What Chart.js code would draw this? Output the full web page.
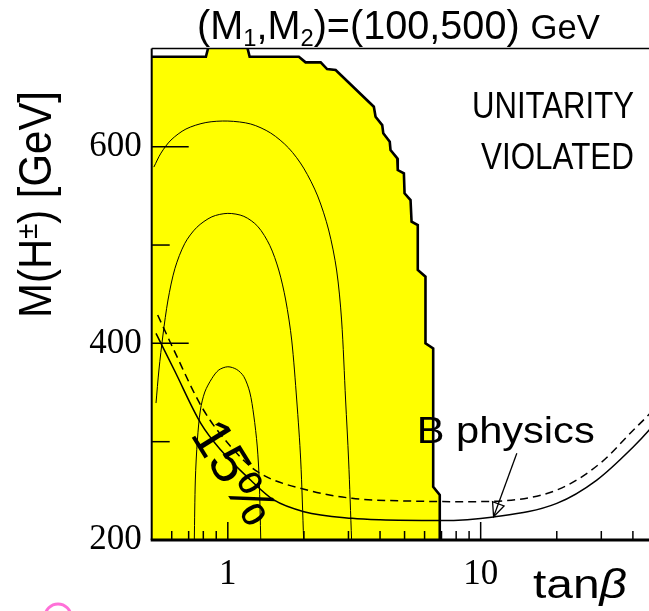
<!DOCTYPE html>
<html><head><meta charset="utf-8">
<script src="https://cdn.jsdelivr.net/npm/chart.js@4.4.0/dist/chart.umd.min.js"></script>
<style>html,body{margin:0;padding:0;background:#fff;overflow:hidden;width:649px;height:611px}canvas{display:block}</style>
</head><body>
<canvas id="c" width="680" height="611"></canvas>
<script>
// ---- tick values ----
const xTickValues = [1, 10];
const xMinorTicks = [0.6, 0.7, 0.8, 0.9, 2, 3, 4, 5, 6, 7, 8, 9, 20, 30, 40, 50];
const yTickValues = [200, 400, 600];
const yMinorTicks = [300, 500];

// ---- unitarity boundary (yellow = allowed) ----
const unitarityTanb = [0.5, 0.819, 0.841, 1.189, 1.22, 1.91, 2.03, 2.33, 2.47, 2.67, 3.78, 3.84, 4.08, 4.12, 4.37, 4.40, 4.68, 4.70, 4.97, 5.00, 5.28, 5.33, 5.64, 5.64, 6.05, 6.05, 6.49, 6.49, 6.89, 6.89];
const unitarityMass = [691.5, 691.5, 703, 703, 691.5, 691.5, 685.8, 685.8, 679, 678, 640.7, 630.5, 622, 613.6, 605, 596.6, 588.2, 576.3, 572.9, 552.6, 545.8, 523.7, 520.3, 474.6, 467.8, 400, 394.9, 254.2, 245.8, 200];

// ---- contours ----
const contourATanb = [0.510, 0.544, 0.596, 0.683, 0.819, 1.0, 1.232, 1.478, 1.741, 1.995, 2.266, 2.505, 2.693, 2.818, 2.923, 3.004, 3.087];
const contourAMass = [579.3, 593.5, 606.8, 618, 624.6, 626.1, 623.1, 613.9, 598.6, 578.3, 549.9, 515.3, 474.6, 423.8, 342.4, 281.4, 200];
const contourBTanb = [0.520, 0.534, 0.554, 0.580, 0.618, 0.676, 0.754, 0.865, 1.0, 1.157, 1.313, 1.465, 1.590, 1.694, 1.789, 1.873, 1.942, 1.995];
const contourBMass = [339.3, 372.9, 408.5, 444.1, 476.3, 501.7, 518, 528.7, 532.2, 529.2, 519, 499.7, 474.6, 444.1, 403.4, 342.4, 281.4, 200];
const contourCTanb = [0.737, 0.744, 0.758, 0.779, 0.811, 0.865, 0.921, 1.0, 1.085, 1.157, 1.221, 1.266, 1.307, 1.331, 1.350];
const contourCMass = [200, 261, 301.7, 332.2, 350.5, 364.3, 372.9, 376.2, 373.4, 366.2, 350.5, 327.1, 295.6, 261, 200];

// ---- B physics bounds ----
const bSolidTanb = [0.52, 0.614, 0.782, 0.938, 1.23, 1.52, 2.0, 3.1, 4.0, 6.9, 11.25, 20, 28.8, 40.2, 46.4, 50];
const bSolidMass = [410.2, 372.9, 318.7, 291.5, 261, 240.7, 228.8, 222, 220.5, 219.8, 223.5, 237.3, 261, 294.9, 311.9, 322];
const bDashTanb = [0.528, 0.612, 0.794, 1.028, 1.31, 2.06, 3.1, 5.5, 9.1, 10.9, 20, 29.7, 40.2, 45.4, 50];
const bDashMass = [428.8, 393.2, 334, 294.9, 269.5, 250.8, 242.4, 239.5, 239, 239.2, 250.8, 278, 311.9, 325.4, 337];

// ---- annotation arrow (B physics label -> curve) ----
const arrowTanb = [13.9, 11.25];
const arrowMass = [288.2, 223.7];

const pts = (xs, ys) => xs.map((x, i) => ({x: x, y: ys[i]}));

function txt(ctx, str, font, x, y, o) {
  o = o || {};
  ctx.save();
  ctx.font = font;
  ctx.translate(x, y);
  if (o.rot) ctx.rotate(o.rot);
  const w = ctx.measureText(str).width;
  const sx = o.width ? o.width / w : (o.sx || 1);
  ctx.scale(sx, 1);
  ctx.textAlign = o.align || 'left';
  ctx.textBaseline = o.baseline || 'alphabetic';
  ctx.fillStyle = '#000';
  ctx.fillText(str, 0, 0);
  ctx.restore();
}

function segs(ctx, parts, x, y, targetW, rot) {
  let total = 0;
  parts.forEach(p => { ctx.font = p.f; p.w = ctx.measureText(p.t).width; total += p.w; });
  const sx = targetW / total;
  ctx.save();
  ctx.translate(x, y);
  if (rot) ctx.rotate(rot);
  ctx.scale(sx, 1);
  ctx.fillStyle = '#000';
  ctx.textBaseline = 'alphabetic';
  ctx.textAlign = 'left';
  let cx = 0;
  parts.forEach(p => { ctx.font = p.f; ctx.fillText(p.t, cx, p.dy || 0); cx += p.w; });
  ctx.restore();
}

const decor = {
  id: 'decor',
  afterDatasetsDraw(chart) {
    const {ctx, chartArea: a, scales: {x, y}} = chart;
    ctx.save();
    ctx.strokeStyle = '#000';
    ctx.lineCap = 'butt';
    // axes frame
    ctx.lineWidth = 1.5;
    ctx.beginPath(); ctx.moveTo(a.left, a.top); ctx.lineTo(a.right, a.top); ctx.stroke();
    ctx.lineWidth = 2;
    ctx.beginPath(); ctx.moveTo(a.left, a.top); ctx.lineTo(a.left, a.bottom); ctx.stroke();
    ctx.lineWidth = 3;
    ctx.beginPath(); ctx.moveTo(a.left - 1, a.bottom); ctx.lineTo(a.right, a.bottom); ctx.stroke();
    // inward ticks
    ctx.lineWidth = 1.5;
    xTickValues.forEach(v => { const px = x.getPixelForValue(v); ctx.beginPath(); ctx.moveTo(px, a.bottom); ctx.lineTo(px, a.bottom - 18); ctx.stroke(); });
    xMinorTicks.forEach(v => { const px = x.getPixelForValue(v); ctx.beginPath(); ctx.moveTo(px, a.bottom); ctx.lineTo(px, a.bottom - 9); ctx.stroke(); });
    yTickValues.forEach(v => { const py = y.getPixelForValue(v); ctx.beginPath(); ctx.moveTo(a.left, py); ctx.lineTo(a.left + 37, py); ctx.stroke(); });
    yMinorTicks.forEach(v => { const py = y.getPixelForValue(v); ctx.beginPath(); ctx.moveTo(a.left, py); ctx.lineTo(a.left + 18, py); ctx.stroke(); });
    // arrow
    const x0 = x.getPixelForValue(arrowTanb[0]), y0 = y.getPixelForValue(arrowMass[0]);
    const x1 = x.getPixelForValue(arrowTanb[1]), y1 = y.getPixelForValue(arrowMass[1]);
    ctx.lineWidth = 1.3;
    ctx.beginPath(); ctx.moveTo(x0, y0); ctx.lineTo(x1, y1); ctx.stroke();
    const ang = Math.atan2(y1 - y0, x1 - x0), L = 15, h = 0.42;
    ctx.beginPath();
    ctx.moveTo(x1 - L * Math.cos(ang - h), y1 - L * Math.sin(ang - h));
    ctx.lineTo(x1, y1);
    ctx.lineTo(x1 - L * Math.cos(ang + h), y1 - L * Math.sin(ang + h));
    ctx.closePath();
    ctx.stroke();
    ctx.restore();

    // texts
    const sans = '"Liberation Sans", Arial, sans-serif';
    segs(ctx, [
      {t: '(M', f: '40px ' + sans},
      {t: '1', f: '24px ' + sans, dy: 7},
      {t: ',M', f: '40px ' + sans},
      {t: '2', f: '24px ' + sans, dy: 7},
      {t: ')=(100,500) ', f: '40px ' + sans},
      {t: 'GeV', f: '35px ' + sans}
    ], 197, 39, 403);
    txt(ctx, 'UNITARITY', '36px ' + sans, 472, 118, {width: 162});
    txt(ctx, 'VIOLATED', '36px ' + sans, 481, 169, {width: 153});
    txt(ctx, 'B physics', '37px ' + sans, 416.7, 443.3, {width: 178});
    txt(ctx, '15%', '54px ' + sans, 232, 474, {rot: 58 * Math.PI / 180, sx: 1.04, align: 'center', baseline: 'middle'});
    segs(ctx, [
      {t: 'tan', f: '40px ' + sans},
      {t: 'β', f: 'italic 40px ' + sans}
    ], 533, 598, 94);
    segs(ctx, [
      {t: 'M(H', f: '46px ' + sans},
      {t: '±', f: '30px ' + sans, dy: -14},
      {t: ') [GeV]', f: '46px ' + sans}
    ], 51, 318, 227, -Math.PI / 2);

    // pink mark bottom-left
    ctx.save();
    ctx.strokeStyle = '#ff70d8';
    ctx.lineWidth = 3;
    ctx.beginPath(); ctx.arc(58, 617, 13, 0, Math.PI * 2); ctx.stroke();
    ctx.restore();
  }
};

new Chart(document.getElementById('c'), {
  type: 'line',
  data: {
    datasets: [
      {data: pts(bSolidTanb, bSolidMass), borderColor: '#000', borderWidth: 1.5, pointRadius: 0, cubicInterpolationMode: 'monotone', fill: false},
      {data: pts(bDashTanb, bDashMass), borderColor: '#000', borderWidth: 1.5, borderDash: [8, 5], pointRadius: 0, cubicInterpolationMode: 'monotone', fill: false},
      {data: pts(contourATanb, contourAMass), borderColor: '#000', borderWidth: 1, pointRadius: 0, tension: 0.3, fill: false},
      {data: pts(contourBTanb, contourBMass), borderColor: '#000', borderWidth: 1, pointRadius: 0, tension: 0.3, fill: false},
      {data: pts(contourCTanb, contourCMass), borderColor: '#000', borderWidth: 1, pointRadius: 0, tension: 0.3, fill: false},
      {data: pts(unitarityTanb, unitarityMass), borderColor: '#000', borderWidth: 2.6, backgroundColor: '#ffff00', pointRadius: 0, tension: 0, fill: 'start'}
    ]
  },
  options: {
    responsive: false,
    animation: false,
    devicePixelRatio: 1,
    layout: {padding: {left: 0, right: 22.6, top: 48.4, bottom: 0}},
    plugins: {legend: {display: false}, tooltip: {enabled: false}, title: {display: false}},
    scales: {
      x: {
        type: 'logarithmic', min: 0.5, max: 50, bounds: 'data',
        grid: {display: false, drawTicks: false}, border: {display: false},
        afterBuildTicks: s => { s.ticks = xTickValues.map(v => ({value: v})); },
        afterFit: s => { s.height = 71; },
        ticks: {autoSkip: false, maxRotation: 0, minRotation: 0, padding: 14, color: '#000',
          font: {family: '"Liberation Serif", "Times New Roman", serif', size: 35},
          callback: v => String(v)}
      },
      y: {
        type: 'linear', min: 200, max: 700, bounds: 'data',
        grid: {display: false, drawTicks: false}, border: {display: false},
        afterBuildTicks: s => { s.ticks = yTickValues.map(v => ({value: v})); },
        afterFit: s => { s.width = 151.7; },
        ticks: {autoSkip: false, padding: 10, color: '#000',
          font: {family: '"Liberation Serif", "Times New Roman", serif', size: 35},
          callback: v => String(v)}
      }
    }
  },
  plugins: [decor]
});
</script>
</body></html>
